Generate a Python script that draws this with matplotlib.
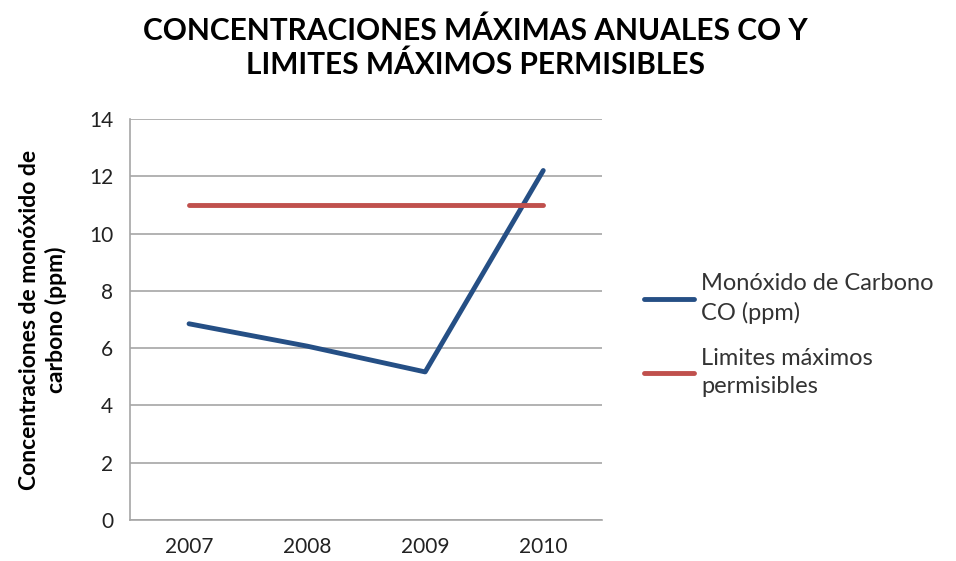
import matplotlib.pyplot as plt

years = ["2007", "2008", "2009", "2010"]
co_ppm = [6.85, 6.07, 5.17, 12.2]
limite = [11, 11, 11, 11]

plt.rcParams['font.family'] = ['Lato', 'DejaVu Sans']

fig = plt.figure(figsize=(9.56, 5.61), dpi=100)
ax = fig.add_axes([0.136, 0.073, 0.494, 0.715])

x = range(len(years))
ax.plot(x, co_ppm, color='#254f85', lw=3.5, solid_capstyle='round',
        label='Monóxido de Carbono\nCO (ppm)')
ax.plot(x, limite, color='#c0504d', lw=3.5, solid_capstyle='round',
        label='Limites máximos\npermisibles')

ax.set_xlim(-0.5, 3.5)
ax.set_ylim(0, 14)
ax.set_yticks(range(0, 15, 2))
ax.set_xticks(list(x))
ax.set_xticklabels(years)
ax.grid(axis='y', color='#a6a6a6', lw=1.2)
ax.set_axisbelow(True)
for s in ['top', 'right']:
    ax.spines[s].set_visible(False)
for s in ['left', 'bottom']:
    ax.spines[s].set_color('#a6a6a6')
    ax.spines[s].set_linewidth(1.2)
ax.tick_params(length=0, labelsize=15, colors='#222222', pad=12)

ax.set_ylabel('Concentraciones de monóxido de\ncarbono (ppm)', fontsize=16.5,
              fontweight='bold', labelpad=16, linespacing=1.25)

fig.text(0.497, 0.915, 'CONCENTRACIONES MÁXIMAS ANUALES CO Y\nLIMITES MÁXIMOS PERMISIBLES',
         ha='center', va='center', fontsize=21.5, fontweight='bold', linespacing=1.2)

leg = ax.legend(loc='center left', bbox_to_anchor=(0.674, 0.403), bbox_transform=fig.transFigure,
                frameon=False, fontsize=17, handlelength=2.1, handletextpad=0.3,
                labelspacing=1.0, borderpad=0, borderaxespad=0, labelcolor='#333333')
for t in leg.get_texts():
    t.set_linespacing(1.45)

fig.savefig('out.png', dpi=100)
